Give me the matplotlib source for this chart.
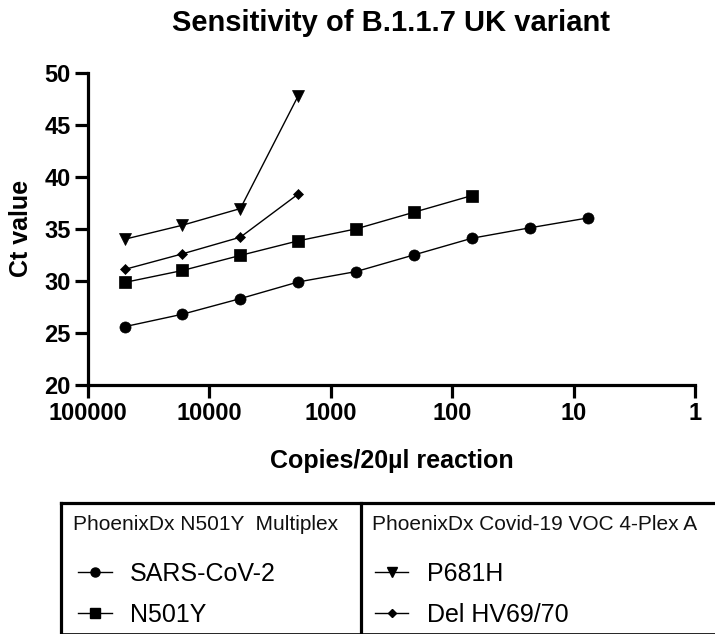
import matplotlib
matplotlib.use("Agg")
import matplotlib.pyplot as plt
from matplotlib.lines import Line2D

plt.rcParams['font.family'] = ['Liberation Sans', 'DejaVu Sans']

# ---- data ----
copies = [50000, 16667, 5556, 1852, 617, 206, 68.6, 22.9, 7.6]
sars_cov2 = [25.6, 26.8, 28.3, 29.9, 30.9, 32.5, 34.1, 35.1, 36.05]
n501y = [29.85, 31.0, 32.45, 33.85, 35.0, 36.6, 38.2]
p681h = [34.0, 35.35, 36.95, 47.8]
del_hv6970 = [31.1, 32.6, 34.2, 38.35]

xticks = [100000, 10000, 1000, 100, 10, 1]
xtick_labels = ["100000", "10000", "1000", "100", "10", "1"]
yticks = [20, 25, 30, 35, 40, 45, 50]

title = "Sensitivity of B.1.1.7 UK variant"
xlabel = "Copies/20µl reaction"
ylabel = "Ct value"
group1 = "PhoenixDx N501Y  Multiplex"
group2 = "PhoenixDx Covid-19 VOC 4-Plex A"
names1 = ["SARS-CoV-2", "N501Y"]
names2 = ["P681H", "Del HV69/70"]

W, H = 715, 634
fig = plt.figure(figsize=(W / 100, H / 100), dpi=100)


def fx(x):
    return x / W


def fy(y):
    return 1 - y / H


ax = fig.add_axes([fx(88), fy(385), fx(695) - fx(88), fy(72.7) - fy(385)])

lw = 1.0
ax.plot(copies[:len(sars_cov2)], sars_cov2, color='black', lw=lw, marker='o', ms=8, mew=0.5, clip_on=False)
ax.plot(copies[:len(n501y)], n501y, color='black', lw=lw, marker='s', ms=8, mew=0.5, clip_on=False)
ax.plot(copies[:len(p681h)], p681h, color='black', lw=lw, marker='v', ms=8, mew=0.5, clip_on=False)
ax.plot(copies[:len(del_hv6970)], del_hv6970, color='black', lw=lw, marker='D', ms=5, mew=0.5, clip_on=False)

ax.set_xscale('log')
ax.set_xlim(100000, 1)
ax.set_ylim(20, 50)
ax.set_xticks(xticks)
ax.set_xticklabels(xtick_labels)
ax.minorticks_off()
ax.set_yticks(yticks)

for s in ['top', 'right']:
    ax.spines[s].set_visible(False)
for s in ['left', 'bottom']:
    ax.spines[s].set_linewidth(2.3)
ax.tick_params(axis='both', which='major', length=9.5, width=2.3, labelsize=17, pad=3)
for lab in ax.get_xticklabels() + ax.get_yticklabels():
    lab.set_fontweight('bold')

ax.set_xlabel(xlabel, fontsize=18, fontweight='bold', labelpad=17)
ax.set_ylabel(ylabel, fontsize=18, fontweight='bold', labelpad=8)

fig.text(fx(391), fy(23), title, fontsize=21, fontweight='bold', ha='center', va='center')

# ---- legend boxes ----
blw = 2.3
fig.add_artist(Line2D([fx(61), fx(720)], [fy(503), fy(503)], color='black', lw=blw))
fig.add_artist(Line2D([fx(61), fx(720)], [fy(633.5), fy(633.5)], color='black', lw=1.2))
fig.add_artist(Line2D([fx(61), fx(61)], [fy(503), fy(640)], color='black', lw=blw))
fig.add_artist(Line2D([fx(361), fx(361)], [fy(503), fy(640)], color='black', lw=blw))

fig.text(fx(72.7), fy(530), group1, fontsize=15, ha='left', va='baseline', color='#111111')
fig.text(fx(371.7), fy(530), group2, fontsize=15, ha='left', va='baseline', color='#111111')

rows = [571.5, 612.5]
for name, mk, ms, yy in zip(names1, ['o', 's'], [6.5, 6.5], rows):
    fig.add_artist(Line2D([fx(78), fx(112)], [fy(yy), fy(yy)], color='black', lw=1.0))
    fig.add_artist(Line2D([fx(95)], [fy(yy)], color='black', marker=mk, ms=ms, lw=0))
    fig.text(fx(130), fy(yy), name, fontsize=18, ha='left', va='center_baseline')
for name, mk, ms, yy in zip(names2, ['v', 'D'], [6.5, 4.5], rows):
    fig.add_artist(Line2D([fx(375), fx(408)], [fy(yy), fy(yy)], color='black', lw=1.0))
    fig.add_artist(Line2D([fx(391.5)], [fy(yy)], color='black', marker=mk, ms=ms, lw=0))
    fig.text(fx(427), fy(yy), name, fontsize=18, ha='left', va='center_baseline')

fig.savefig("out.png", dpi=100)
